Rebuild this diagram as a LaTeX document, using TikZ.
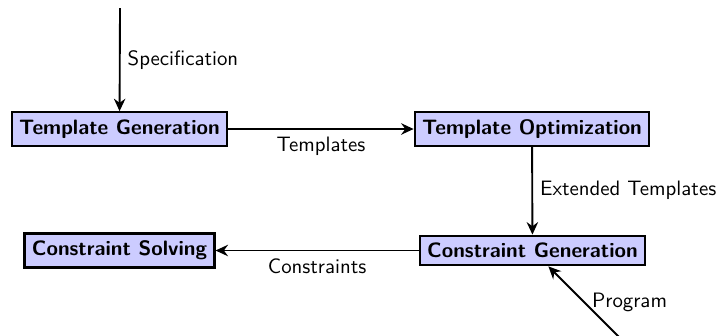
\documentclass[tikz,border=0pt]{standalone}
\usetikzlibrary{arrows.meta}
\begin{document}
\begin{tikzpicture}[x=0.48pt, y=-0.48pt,
  font=\sffamily,
  box/.style={draw=black, line width=1.1pt, fill=blue!20, font=\sffamily\bfseries, inner sep=3.5pt},
  conn/.style={line width=0.9pt, -{Stealth[length=6pt,width=5.5pt,inset=2pt]}},
  lbl/.style={font=\sffamily}]
\useasboundingbox (0,0) rectangle (723,335);
\node[box] (tg) at (119.5,129) {Template Generation};
\node[box] (to) at (532,129) {Template Optimization};
\node[box] (cg) at (532.5,250.5) {Constraint Generation};
\node[box] (cs) at (119.5,250.5) {Constraint Solving};
\coordinate (spec) at (120,8);
\coordinate (prog) at (620,338);
\draw[conn] (spec) -- node[right, lbl] {Specification} (tg);
\draw[conn] (tg) -- node[below, lbl] {Templates} (to);
\draw[conn] (to) -- node[right, lbl] {Extended Templates} (cg);
\draw[conn] (cg) -- node[below, lbl] {Constraints} (cs);
\draw[conn] (prog) -- node[right, lbl] {Program} (cg);
\end{tikzpicture}
\end{document}
